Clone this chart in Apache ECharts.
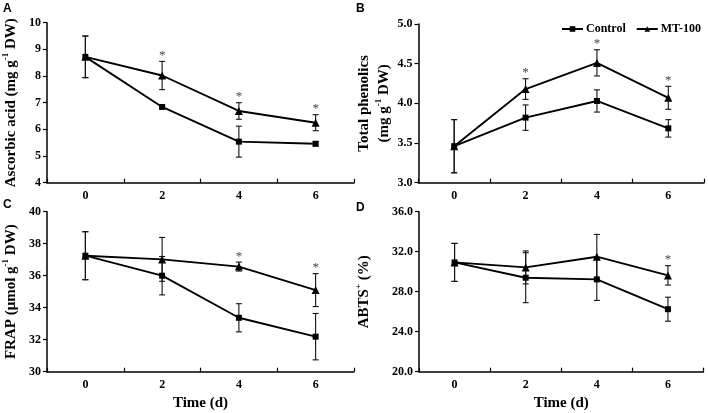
<!DOCTYPE html>
<html>
<head>
<meta charset="utf-8">
<script src="https://cdn.jsdelivr.net/npm/echarts@6/dist/echarts.min.js"></script>
<style>
html,body{margin:0;padding:0;background:#fff;}
#chart{width:708px;height:413px;}
</style>
</head>
<body>
<div id="chart"></div>
<script>
// ---- data ----
const days = ['0', '2', '4', '6'];

const ascControl = [8.72, 6.84, 5.54, 5.46];
const ascControlErr = [0.78, 0.06, 0.58, 0.08];
const ascMT = [8.72, 8.02, 6.69, 6.25];
const ascMTErr = [0.78, 0.53, 0.31, 0.30];
const ascSig = [0, 1, 1, 1];

const phenControl = [3.46, 3.82, 4.03, 3.685];
const phenControlErr = [0.335, 0.16, 0.14, 0.11];
const phenMT = [3.46, 4.18, 4.51, 4.07];
const phenMTErr = [0.335, 0.13, 0.165, 0.145];
const phenSig = [0, 1, 1, 1];

const frapControl = [37.25, 36.0, 33.37, 32.19];
const frapControlErr = [1.5, 1.2, 0.88, 1.45];
const frapMT = [37.25, 37.02, 36.57, 35.1];
const frapMTErr = [1.5, 1.37, 0.28, 1.03];
const frapSig = [0, 0, 1, 1];

const abtsControl = [30.93, 29.4, 29.23, 26.25];
const abtsControlErr = [1.9, 2.5, 2.1, 1.2];
const abtsMT = [30.93, 30.43, 31.5, 29.63];
const abtsMTErr = [1.9, 1.65, 2.23, 0.97];
const abtsSig = [0, 0, 0, 1];

const yTicksA = { min: 4, max: 10, interval: 1 };
const yTicksB = { min: 3, max: 5, interval: 0.5 };
const yTicksC = { min: 30, max: 40, interval: 2 };
const yTicksD = { min: 20, max: 36, interval: 4 };

// ---- styles ----
const SERIF = '"Liberation Serif","Times New Roman",serif';
const SANS = '"Liberation Sans",Arial,sans-serif';
const BLACK = '#000';

const grids = [
  { left: 47, top: 22.7, width: 307, height: 160 },
  { left: 418.5, top: 24, width: 285.5, height: 158.7 },
  { left: 47, top: 211.7, width: 307, height: 160 },
  { left: 419, top: 211.7, width: 284.5, height: 160 }
];

const rich = {
  t: { fontFamily: SERIF, fontWeight: 'bold', fontSize: 15, color: BLACK, lineHeight: 20 },
  s: { fontFamily: SERIF, fontWeight: 'bold', fontSize: 9, color: BLACK, verticalAlign: 'top', lineHeight: 12 }
};

const yNames = [
  '{t|Ascorbic acid (mg g}{s|-1}{t| DW)}',
  '{t|Total phenolics}\n{t|(mg g}{s|-1}{t| DW)}',
  '{t|FRAP (μmol g}{s|-1}{t| DW)}',
  '{t|ABTS}{s|+}{t| (%)}'
];
const yNameGaps = [26, 24, 26, 45];
const yTicks = [yTicksA, yTicksB, yTicksC, yTicksD];
const yDecimals = [0, 1, 0, 1];

const xAxes = grids.map((g, i) => ({
  gridIndex: i,
  type: 'category',
  data: days,
  boundaryGap: true,
  axisLine: { lineStyle: { color: BLACK, width: 1.5 } },
  axisTick: { show: true, inside: true, length: 4, lineStyle: { color: BLACK, width: 1.2 } },
  axisLabel: { color: BLACK, fontFamily: SERIF, fontWeight: 'bold', fontSize: 12, margin: 7 },
  splitLine: { show: false },
  name: i >= 2 ? 'Time (d)' : '',
  nameLocation: 'middle',
  nameGap: 24,
  nameTextStyle: { color: BLACK, fontFamily: SERIF, fontWeight: 'bold', fontSize: 15 }
}));

const yAxes = grids.map((g, i) => ({
  gridIndex: i,
  type: 'value',
  min: yTicks[i].min,
  max: yTicks[i].max,
  interval: yTicks[i].interval,
  axisLine: { show: true, lineStyle: { color: BLACK, width: 1.5 } },
  axisTick: { show: true, inside: false, length: 4, lineStyle: { color: BLACK, width: 1.2 } },
  axisLabel: {
    color: BLACK, fontFamily: SERIF, fontWeight: 'bold', fontSize: 12, margin: 6,
    formatter: v => v.toFixed(yDecimals[i])
  },
  splitLine: { show: false },
  name: yNames[i],
  nameLocation: 'middle',
  nameRotate: 90,
  nameGap: yNameGaps[i],
  nameTextStyle: { rich: rich }
}));

function errSeries(idx, mean, err, sig) {
  return {
    type: 'custom',
    xAxisIndex: idx,
    yAxisIndex: idx,
    silent: true,
    z: 3,
    data: days.map((d, k) => [k, mean[k], err[k], sig ? sig[k] : 0]),
    renderItem: function (params, api) {
      const x = api.value(0), m = api.value(1), e = api.value(2), s = api.value(3);
      const top = api.coord([x, m + e]);
      const bot = api.coord([x, m - e]);
      const hw = 3;
      const st = { stroke: '#111', lineWidth: 1.1 };
      const children = [
        { type: 'line', shape: { x1: top[0], y1: top[1], x2: bot[0], y2: bot[1] }, style: st },
        { type: 'line', shape: { x1: top[0] - hw, y1: top[1], x2: top[0] + hw, y2: top[1] }, style: st },
        { type: 'line', shape: { x1: bot[0] - hw, y1: bot[1], x2: bot[0] + hw, y2: bot[1] }, style: st }
      ];
      if (s) {
        children.push({
          type: 'text',
          style: {
            text: '*', x: top[0], y: top[1] - 6,
            align: 'center', verticalAlign: 'middle',
            fontFamily: SERIF, fontSize: 13, fill: '#444'
          }
        });
      }
      return { type: 'group', children: children };
    }
  };
}

function lineSeries(idx, name, vals, symbol, size) {
  return {
    type: 'line',
    name: name,
    xAxisIndex: idx,
    yAxisIndex: idx,
    data: vals,
    symbol: symbol,
    symbolSize: size,
    showAllSymbol: true,
    z: 4,
    lineStyle: { color: BLACK, width: 1.9 },
    itemStyle: { color: BLACK, borderWidth: 0 }
  };
}

const panels = [
  [ascControl, ascControlErr, ascMT, ascMTErr, ascSig],
  [phenControl, phenControlErr, phenMT, phenMTErr, phenSig],
  [frapControl, frapControlErr, frapMT, frapMTErr, frapSig],
  [abtsControl, abtsControlErr, abtsMT, abtsMTErr, abtsSig]
];

const series = [];
panels.forEach((p, i) => {
  series.push(errSeries(i, p[0], p[1], null));
  series.push(errSeries(i, p[2], p[3], p[4]));
  series.push(lineSeries(i, 'Control', p[0], 'rect', 6));
  series.push(lineSeries(i, 'MT-100', p[2], 'triangle', 8));
});

const letters = [
  { t: 'A', x: 3, y: 3 },
  { t: 'B', x: 356, y: 3 },
  { t: 'C', x: 3, y: 199 },
  { t: 'D', x: 356, y: 202 }
];

const option = {
  animation: false,
  backgroundColor: '#fff',
  grid: grids,
  xAxis: xAxes,
  yAxis: yAxes,
  legend: {
    data: ['Control', 'MT-100'],
    orient: 'horizontal',
    left: 561,
    top: 23,
    width: 200,
    padding: 0,
    itemWidth: 21,
    itemHeight: 7,
    itemGap: 10,
    selectedMode: false,
    textStyle: { color: BLACK, fontFamily: SERIF, fontWeight: 'bold', fontSize: 12, padding: [0, 0, 0, -2] }
  },
  graphic: letters.map(l => ({
    type: 'text', left: l.x, top: l.y,
    style: { text: l.t, fontFamily: SANS, fontWeight: 'bold', fontSize: 12, fill: BLACK }
  })),
  series: series
};

const chart = echarts.init(document.getElementById('chart'), null, { renderer: 'canvas' });
chart.setOption(option);
</script>
</body>
</html>
